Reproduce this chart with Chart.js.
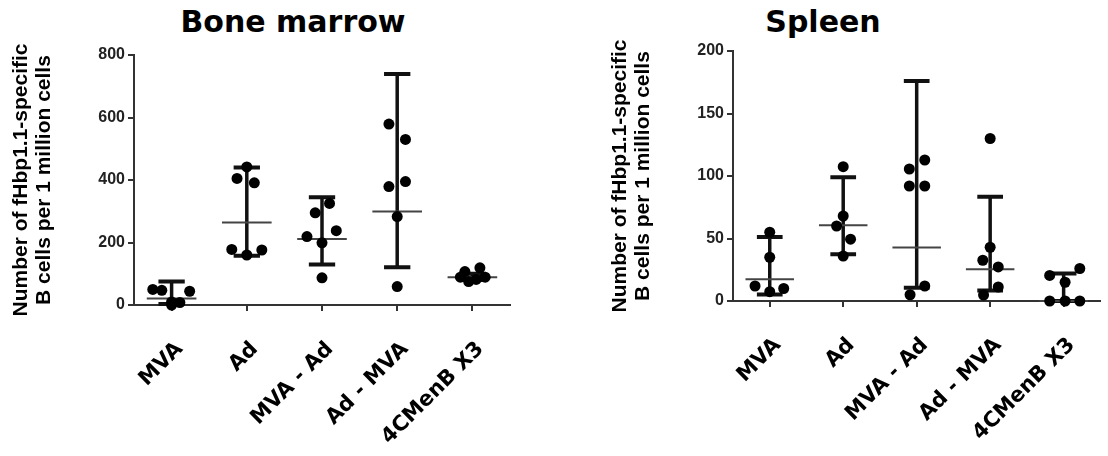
<!DOCTYPE html>
<html>
<head>
<meta charset="utf-8">
<script src="https://cdn.jsdelivr.net/npm/chart.js@4"></script>
<style>
  body { margin: 0; background: #fff; width: 1108px; height: 456px; position: relative; overflow: hidden; }
  .panel { position: absolute; top: 0; }
  .ttl { position: absolute; top: 4px; font: bold 30px "DejaVu Sans"; line-height: normal; transform: translateX(-50%); white-space: nowrap; color: #000; }
</style>
</head>
<body>
<div class="ttl" style="left:293px">Bone marrow</div>
<div class="ttl" style="left:823px">Spleen</div>
<canvas id="bm" class="panel" style="left:0" width="560" height="456"></canvas>
<canvas id="sp" class="panel" style="left:560px" width="548" height="456"></canvas>
<script>
var groups = ['MVA', 'Ad', 'MVA - Ad', 'Ad - MVA', '4CMenB X3'];
var yTitle = ['Number of fHbp1.1-specific', 'B cells per 1 million cells'];

// Bone marrow
var bmValues = [
  [50, 47, 44, 10, 8, 0],
  [442, 405, 391, 178, 160, 176],
  [219, 295, 325, 238, 199, 87],
  [579, 530, 379, 395, 283, 59],
  [119, 107, 75, 82, 89, 89]
];
var bmJitter = [
  [-0.25, -0.13, 0.24, 0, 0.11, 0],
  [0, -0.13, 0.1, -0.2, 0, 0.2],
  [-0.2, -0.09, 0.1, 0.19, 0, 0],
  [-0.11, 0.11, -0.11, 0.11, 0, 0],
  [0.1, -0.1, -0.05, 0.05, -0.16, 0.17]
];
var bmMean = [21, 264, 211, 299, 89];
var bmLow = [3, 158, 130, 121, 80];
var bmHigh = [75, 440, 345, 739, 100];

// Spleen
var spValues = [
  [55, 35, 12, 7.5, 10],
  [107.5, 68, 60, 49.5, 36],
  [105.6, 112.8, 92, 92, 12, 5],
  [130, 43, 32.6, 27.3, 11.2, 4.8],
  [20.5, 26, 15, 0, 0, 0]
];
var spJitter = [
  [0, 0, -0.2, 0, 0.19],
  [0, 0, -0.09, 0.1, 0],
  [-0.1, 0.11, -0.1, 0.11, 0.11, -0.09],
  [0, 0, -0.1, 0.11, 0.11, -0.09],
  [-0.19, 0.22, 0.02, -0.19, 0.02, 0.22]
];
var spMean = [17.4, 60.7, 42.8, 25.4, 0];
var spLow = [5.3, 37.4, 10.7, 8.5, 0];
var spHigh = [51.3, 99, 176, 83.4, 22];

// mean line + whiskers, drawn through the chart scales
var errorBars = {
  id: 'errorBars',
  beforeDatasetsDraw: function (chart, args, opts) {
    var ctx = chart.ctx, x = chart.scales.x, y = chart.scales.y;
    ctx.save();
    opts.mean.forEach(function (m, i) {
      var cx = x.getPixelForValue(i);
      var hw = x.getPixelForValue(i + 0.33) - cx;
      var cw = x.getPixelForValue(i + 0.175) - cx;
      var yl = y.getPixelForValue(opts.low[i]);
      var yh = y.getPixelForValue(opts.high[i]);
      var ym = y.getPixelForValue(m);
      ctx.strokeStyle = '#111';
      ctx.lineWidth = 3.5;
      ctx.beginPath(); ctx.moveTo(cx, yl); ctx.lineTo(cx, yh); ctx.stroke();
      ctx.lineWidth = 4;
      ctx.beginPath();
      ctx.moveTo(cx - cw, yh); ctx.lineTo(cx + cw, yh);
      ctx.moveTo(cx - cw, yl); ctx.lineTo(cx + cw, yl);
      ctx.stroke();
      ctx.strokeStyle = '#444';
      ctx.lineWidth = 2;
      ctx.beginPath(); ctx.moveTo(cx - hw, ym); ctx.lineTo(cx + hw, ym); ctx.stroke();
    });
    ctx.restore();
  }
};

function makeChart(id, values, jitter, mean, low, high, yMax, yStep, yWidth, pad) {
  var datasets = values.map(function (vals, i) {
    return {
      data: vals.map(function (v, k) { return { x: i + jitter[i][k], y: v }; }),
      pointRadius: 5.5,
      pointHoverRadius: 5.5,
      pointBackgroundColor: '#000',
      pointBorderWidth: 0,
      clip: false
    };
  });
  return new Chart(document.getElementById(id), {
    type: 'scatter',
    data: { datasets: datasets },
    plugins: [errorBars],
    options: {
      responsive: false,
      animation: false,
      layout: { padding: pad },
      plugins: {
        legend: { display: false },
        tooltip: { enabled: false },
        errorBars: { mean: mean, low: low, high: high }
      },
      scales: {
        x: {
          type: 'linear',
          min: -0.5,
          max: 4.5,
          afterBuildTicks: function (s) { s.ticks = groups.map(function (g, i) { return { value: i }; }); },
          afterFit: function (s) { s.height = 456 - pad.top - 250; },
          ticks: {
            autoSkip: false,
            minRotation: 45,
            maxRotation: 45,
            padding: 26,
            labelOffset: 8,
            color: '#000',
            font: { family: 'DejaVu Sans', weight: 'bold', size: 21 },
            callback: function (v) { return groups[v]; }
          },
          grid: { drawOnChartArea: false, tickLength: 6, color: '#333', lineWidth: 2 },
          border: { color: '#333', width: 2 }
        },
        y: {
          min: 0,
          max: yMax,
          afterFit: function (s) { s.width = yWidth; },
          ticks: {
            stepSize: yStep,
            padding: 3,
            color: '#222',
            font: { family: 'Liberation Sans', weight: 'bold', size: 16 }
          },
          grid: { drawOnChartArea: false, tickLength: 6, color: '#333', lineWidth: 2 },
          border: { color: '#333', width: 2 },
          title: {
            display: true,
            text: yTitle,
            color: '#000',
            font: { family: 'Liberation Sans', weight: 'bold', size: 21, lineHeight: 1.1 },
            padding: { top: yWidth - 134 + 9.5, bottom: 0 }
          }
        }
      }
    }
  });
}

makeChart('bm', bmValues, bmJitter, bmMean, bmLow, bmHigh, 800, 200, 134, { top: 55, right: 50, left: 0, bottom: 0 });
makeChart('sp', spValues, spJitter, spMean, spLow, spHigh, 200, 50, 173, { top: 51, right: 3, left: 0, bottom: 0 });
</script>
</body>
</html>
